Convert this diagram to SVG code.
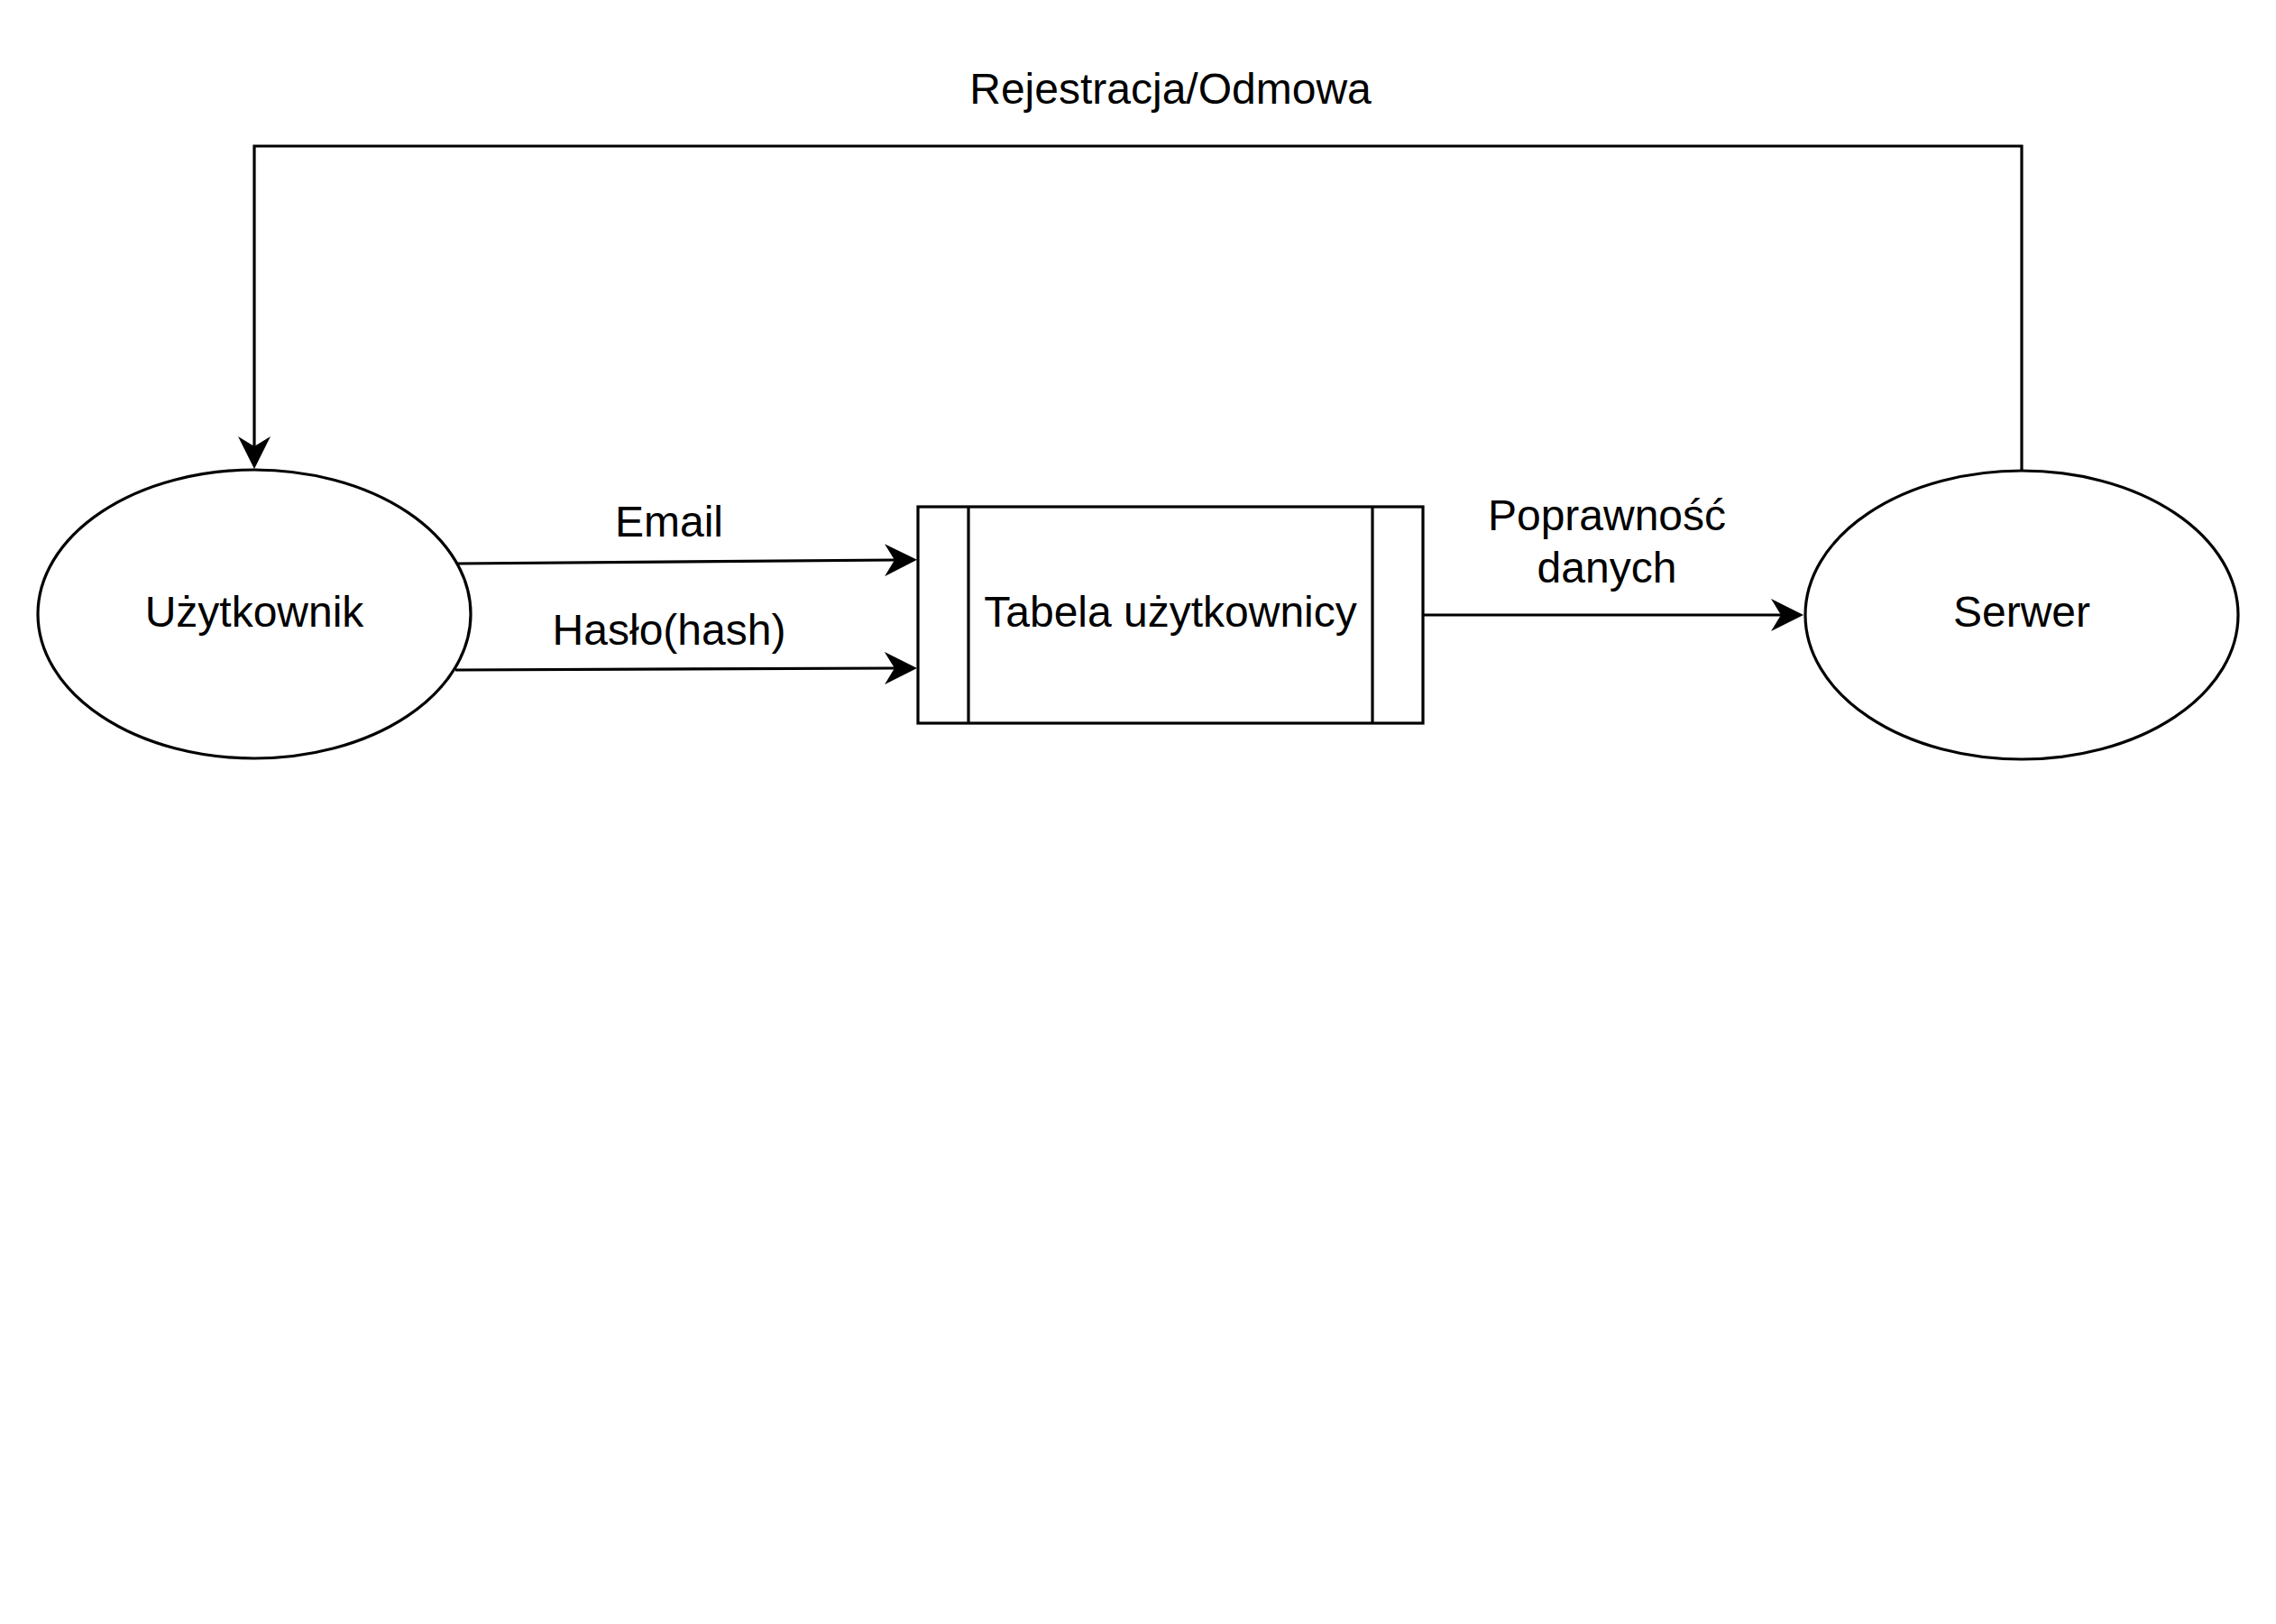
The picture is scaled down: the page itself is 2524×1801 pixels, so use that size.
<svg xmlns="http://www.w3.org/2000/svg" width="2524" height="1801" viewBox="0 0 2524 1801">
  <style>
    .shape { fill: #ffffff; stroke: #000000; stroke-width: 3.2; }
    .edge { fill: none; stroke: #000000; stroke-width: 3.2; }
    .lbl { font-family: "Liberation Sans", Arial, sans-serif; font-size: 48px; fill: #000000; text-anchor: middle; }
  </style>
  <defs>
    <marker id="arrow" markerUnits="userSpaceOnUse" viewBox="0 0 36 36" refX="11" refY="18" markerWidth="36" markerHeight="36" orient="auto">
      <path d="M0,0 L36,18 L0,36 L11,18 Z" fill="#000000"/>
    </marker>
  </defs>
  <rect width="2524" height="1801" fill="#ffffff"/>

  <g id="connectors">
    <path class="edge" d="M507,625 L992,621" marker-end="url(#arrow)"/>
    <path class="edge" d="M505,743 L992,741" marker-end="url(#arrow)"/>
    <path class="edge" d="M1578,682 L1975,682" marker-end="url(#arrow)"/>
    <path class="edge" d="M2242,522 L2242,162 L282,162 L282,495" marker-end="url(#arrow)"/>
    <text class="lbl" x="742" y="595">Email</text>
    <text class="lbl" x="742" y="715">Hasło(hash)</text>
    <text class="lbl" x="1782" y="588">Poprawność</text>
    <text class="lbl" x="1782" y="646">danych</text>
    <text class="lbl" x="1298" y="115">Rejestracja/Odmowa</text>
  </g>

  <g id="uzytkownik">
    <ellipse class="shape" cx="282" cy="681" rx="240" ry="160"/>
    <text class="lbl" x="282" y="695">Użytkownik</text>
  </g>

  <g id="tabela">
    <rect class="shape" x="1018" y="562" width="560" height="240"/>
    <line class="edge" x1="1074" y1="562" x2="1074" y2="802"/>
    <line class="edge" x1="1522" y1="562" x2="1522" y2="802"/>
    <text class="lbl" x="1298" y="695">Tabela użytkownicy</text>
  </g>

  <g id="serwer">
    <ellipse class="shape" cx="2242" cy="682" rx="240" ry="160"/>
    <text class="lbl" x="2242" y="695">Serwer</text>
  </g>
</svg>
